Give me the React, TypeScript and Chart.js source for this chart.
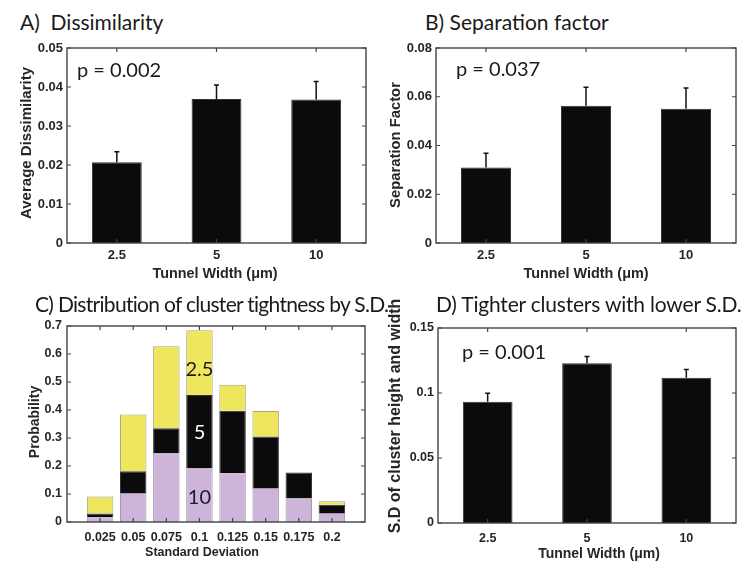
import React, { useEffect, useRef } from 'react';
import { Chart, registerables } from 'chart.js';
Chart.register(...registerables);

// ---------- data ----------
const widthCats = ['2.5', '5', '10'];

const dissimilarity = [0.0207, 0.0369, 0.0368];
const dissimilarityErr = [0.0234, 0.0405, 0.0414];
const dissimilarityTicks = [0, 0.01, 0.02, 0.03, 0.04, 0.05];

const separation = [0.031, 0.0563, 0.0551];
const separationErr = [0.0368, 0.0639, 0.0636];
const separationTicks = [0, 0.02, 0.04, 0.06, 0.08];

const sdValues = [0.025, 0.05, 0.075, 0.1, 0.125, 0.15, 0.175, 0.2];
const sdLabels = ['0.025', '0.05', '0.075', '0.1', '0.125', '0.15', '0.175', '0.2'];
const prob10 = [0.017, 0.104, 0.245, 0.191, 0.174, 0.121, 0.084, 0.032];
const prob5 = [0.013, 0.077, 0.09, 0.263, 0.223, 0.184, 0.093, 0.03];
const prob25 = [0.061, 0.203, 0.293, 0.231, 0.093, 0.091, 0, 0.012];
const probTicks = [0, 0.1, 0.2, 0.3, 0.4, 0.5, 0.6, 0.7];

const clusterSD = [0.0933, 0.1228, 0.1118];
const clusterSDErr = [0.0998, 0.128, 0.118];
const clusterSDTicks = [0, 0.05, 0.1, 0.15];

// ---------- styles ----------
const SANS = "'Liberation Sans', Arial, sans-serif";
const HUMAN = "Lato, 'Open Sans', sans-serif";
const TEXT = '#262626';

const panelPlugin = {
  id: 'panel',
  afterDatasetsDraw(chart: any, _a: any, opts: any) {
    const ctx = chart.ctx;
    const ys = chart.scales.y;
    if (opts.err) {
      ctx.save();
      ctx.strokeStyle = '#111';
      ctx.lineWidth = 1.5;
      const meta = chart.getDatasetMeta(0);
      opts.err.forEach((v: number, i: number) => {
        const el = meta.data[i];
        const x = el.x;
        const y0 = el.y;
        const y1 = ys.getPixelForValue(v);
        ctx.beginPath();
        ctx.moveTo(x, y0);
        ctx.lineTo(x, y1);
        ctx.moveTo(x - 2.5, y1);
        ctx.lineTo(x + 2.5, y1);
        ctx.stroke();
      });
      ctx.restore();
    }
  },
  afterDraw(chart: any, _a: any, opts: any) {
    const ctx = chart.ctx;
    const { left, right, top, bottom } = chart.chartArea;
    const xs = chart.scales.x;
    const ys = chart.scales.y;
    ctx.save();
    ctx.strokeStyle = '#444';
    ctx.lineWidth = 1.4;
    ctx.strokeRect(left, top, right - left, bottom - top);
    ctx.lineWidth = 1.2;
    const TL = 4;
    ctx.beginPath();
    xs.ticks.forEach((_t: any, i: number) => {
      const x = xs.getPixelForTick(i);
      ctx.moveTo(x, bottom);
      ctx.lineTo(x, bottom - TL);
      ctx.moveTo(x, top);
      ctx.lineTo(x, top + TL);
    });
    ys.ticks.forEach((_t: any, i: number) => {
      const y = ys.getPixelForTick(i);
      ctx.moveTo(left, y);
      ctx.lineTo(left + TL, y);
      ctx.moveTo(right, y);
      ctx.lineTo(right - TL, y);
    });
    ctx.stroke();
    // axis titles
    (opts.axisTitles || []).forEach((t: any) => {
      ctx.save();
      ctx.font = `bold ${t.size}px ${SANS}`;
      ctx.fillStyle = TEXT;
      ctx.textAlign = 'center';
      ctx.textBaseline = 'middle';
      ctx.translate(t.x, t.y);
      if (t.rotate) ctx.rotate(-Math.PI / 2);
      ctx.fillText(t.text, 0, 0);
      ctx.restore();
    });
    // annotations
    (opts.notes || []).forEach((n: any) => {
      ctx.font = `${n.size}px ${HUMAN}`;
      ctx.fillStyle = n.color || '#1a1a1a';
      if (n.xv !== undefined) {
        ctx.textAlign = 'center';
        ctx.textBaseline = 'middle';
        ctx.fillText(n.text, xs.getPixelForValue(n.xv), ys.getPixelForValue(n.yv));
      } else {
        ctx.textAlign = 'left';
        ctx.textBaseline = 'alphabetic';
        ctx.fillText(n.text, left + n.dx, top + n.dy);
      }
    });
    ctx.restore();
  },
};

type Geo = {
  cl: number; ct: number; cw: number; ch: number;
  al: number; at: number; ar: number; ab: number;
  tickSize: number;
  xTitle: string; xTitleX: number; xTitleY: number; xTitleSize: number;
  yTitle: string; yTitleX: number; yTitleY: number; yTitleSize: number;
  xTickPad: number; yTickPad: number;
  yTicks: number[];
};

function buildOptions(g: Geo, xScale: any, plugin: any) {
  const areaT = g.at - g.ct;
  const areaB = g.ab - g.ct;
  const yWidth = g.al - g.cl;
  const xHeight = g.ch - areaB;
  const tickFont = { family: SANS, size: g.tickSize, weight: 'bold' as const };
  const axisTitles = [
    { text: g.xTitle, x: g.xTitleX - g.cl, y: g.xTitleY - g.ct, size: g.xTitleSize, rotate: false },
    { text: g.yTitle, x: g.yTitleX - g.cl, y: g.yTitleY - g.ct, size: g.yTitleSize, rotate: true },
  ];
  return {
    responsive: false,
    animation: false,
    devicePixelRatio: 1,
    layout: { padding: { left: 0, top: areaT, right: g.cl + g.cw - g.ar, bottom: 0 } },
    plugins: { legend: { display: false }, tooltip: { enabled: false }, panel: { ...plugin, axisTitles } },
    scales: {
      x: {
        ...xScale,
        afterFit: (s: any) => { s.height = xHeight; },
        title: { display: false, text: g.xTitle },
        ticks: { ...(xScale.ticks || {}), font: tickFont, color: TEXT, padding: g.xTickPad, maxRotation: 0, autoSkip: false },
        grid: { display: false, drawTicks: false },
        border: { display: false },
      },
      y: {
        type: 'linear',
        stacked: xScale.stacked,
        min: 0,
        max: g.yTicks[g.yTicks.length - 1],
        afterBuildTicks: (s: any) => { s.ticks = g.yTicks.map((v) => ({ value: v })); },
        afterFit: (s: any) => { s.width = yWidth; },
        title: { display: false, text: g.yTitle },
        ticks: { font: tickFont, color: TEXT, padding: g.yTickPad, callback: (v: any) => String(v) },
        grid: { display: false, drawTicks: false },
        border: { display: false },
      },
    },
  };
}

const catX = { type: 'category', offset: true };

function simpleBar(values: number[], errs: number[], g: Geo, pText: string, pdx: number, pdy: number) {
  return {
    type: 'bar',
    data: {
      labels: widthCats,
      datasets: [{
        data: values,
        backgroundColor: '#0b0b0b',
        borderColor: '#333',
        borderWidth: 1,
        barPercentage: 0.5,
        categoryPercentage: 1,
      }],
    },
    options: buildOptions(g, catX, { err: errs, notes: [{ text: pText, dx: pdx, dy: pdy, size: 20 }] }),
    plugins: [panelPlugin],
  };
}

const geoA: Geo = {
  cl: 0, ct: 36, cw: 373, ch: 252, al: 67, at: 48, ar: 366, ab: 243, tickSize: 13,
  xTitle: 'Tunnel Width (μm)', xTitleX: 215, xTitleY: 274, xTitleSize: 14.4,
  yTitle: 'Average Dissimilarity', yTitleX: 27, yTitleY: 143, yTitleSize: 15,
  xTickPad: 5, yTickPad: 4, yTicks: dissimilarityTicks,
};
const geoB: Geo = {
  cl: 373, ct: 36, cw: 373, ch: 252, al: 436, at: 48, ar: 736, ab: 243, tickSize: 13,
  xTitle: 'Tunnel Width (μm)', xTitleX: 586, xTitleY: 274, xTitleSize: 14.4,
  yTitle: 'Separation Factor', yTitleX: 396, yTitleY: 145, yTitleSize: 14.8,
  xTickPad: 5, yTickPad: 4, yTicks: separationTicks,
};
const geoC: Geo = {
  cl: 0, ct: 290, cw: 373, ch: 271, al: 67, at: 326, ar: 365, ab: 522, tickSize: 12.5,
  xTitle: 'Standard Deviation', xTitleX: 202, xTitleY: 553, xTitleSize: 12.5,
  yTitle: 'Probability', yTitleX: 35, yTitleY: 422, yTitleSize: 14,
  xTickPad: 8, yTickPad: 5, yTicks: probTicks,
};
const geoD: Geo = {
  cl: 373, ct: 290, cw: 373, ch: 271, al: 438, at: 328, ar: 736, ab: 523, tickSize: 12.5,
  xTitle: 'Tunnel Width (μm)', xTitleX: 599, xTitleY: 554, xTitleSize: 14,
  yTitle: 'S.D of cluster height and width', yTitleX: 396, yTitleY: 416, yTitleSize: 16,
  xTickPad: 8, yTickPad: 4, yTicks: clusterSDTicks,
};

function configA() { return simpleBar(dissimilarity, dissimilarityErr, geoA, 'p = 0.002', 10, 29); }
function configB() { return simpleBar(separation, separationErr, geoB, 'p = 0.037', 20, 28); }
function configD() { return simpleBar(clusterSD, clusterSDErr, geoD, 'p = 0.001', 24, 31); }
function configC() {
  const xLin = {
    type: 'linear', min: 0, max: 0.225, offset: false, stacked: true,
    afterBuildTicks: (s: any) => { s.ticks = sdValues.map((v) => ({ value: v })); },
    ticks: { callback: (_v: any, i: number) => sdLabels[i] },
  };
  const ds = (label: string, vals: number[], bg: string, bc: string) => ({
    label,
    data: sdValues.map((x, i) => ({ x, y: vals[i] })),
    backgroundColor: bg,
    borderColor: bc,
    borderWidth: 1,
    barPercentage: 0.8,
    categoryPercentage: 1,
  });
  return {
    type: 'bar',
    data: {
      datasets: [
        ds('10', prob10, '#cdb5d9', '#a890b6'),
        ds('5', prob5, '#0b0b0b', '#333'),
        ds('2.5', prob25, '#eee65c', '#a8a68a'),
      ],
    },
    options: buildOptions(geoC, xLin, {
      notes: [
        { text: '2.5', xv: 0.1, yv: 0.543, size: 20, color: '#1a1a1a' },
        { text: '5', xv: 0.1, yv: 0.318, size: 20, color: '#ffffff' },
        { text: '10', xv: 0.1, yv: 0.089, size: 20, color: '#1a1a2a' },
      ],
    }),
    plugins: [panelPlugin],
  };
}

function Panel({ g, make }: { g: Geo; make: () => any }) {
  const ref = useRef<HTMLCanvasElement>(null);
  useEffect(() => {
    const chart = new Chart(ref.current as HTMLCanvasElement, make());
    return () => chart.destroy();
  }, []);
  return (
    <canvas
      ref={ref}
      width={g.cw}
      height={g.ch}
      style={{ position: 'absolute', left: g.cl, top: g.ct, width: g.cw, height: g.ch }}
    />
  );
}

const titles = [
  { text: 'A)  Dissimilarity', x: 20, base: 30, ls: 0 },
  { text: 'B) Separation factor', x: 425, base: 30, ls: 0 },
  { text: 'C) Distribution of cluster tightness by S.D.', x: 35, base: 312, ls: -0.7 },
  { text: 'D) Tighter clusters with lower S.D.', x: 436, base: 312, ls: -0.2 },
];
const TITLE_FS = 21;

export default function App() {
  return (
    <div style={{ position: 'absolute', left: 0, top: 0, width: 746, height: 561, background: '#fff', overflow: 'hidden' }}>
      <Panel g={geoA} make={configA} />
      <Panel g={geoB} make={configB} />
      <Panel g={geoC} make={configC} />
      <Panel g={geoD} make={configD} />
      {titles.map((t) => (
        <div
          key={t.text}
          style={{
            position: 'absolute', left: t.x, top: t.base - 0.887 * TITLE_FS,
            fontFamily: HUMAN, fontSize: TITLE_FS, lineHeight: `${TITLE_FS}px`,
            letterSpacing: t.ls, color: '#1a1a1a', whiteSpace: 'pre',
          }}
        >
          {t.text}
        </div>
      ))}
    </div>
  );
}
